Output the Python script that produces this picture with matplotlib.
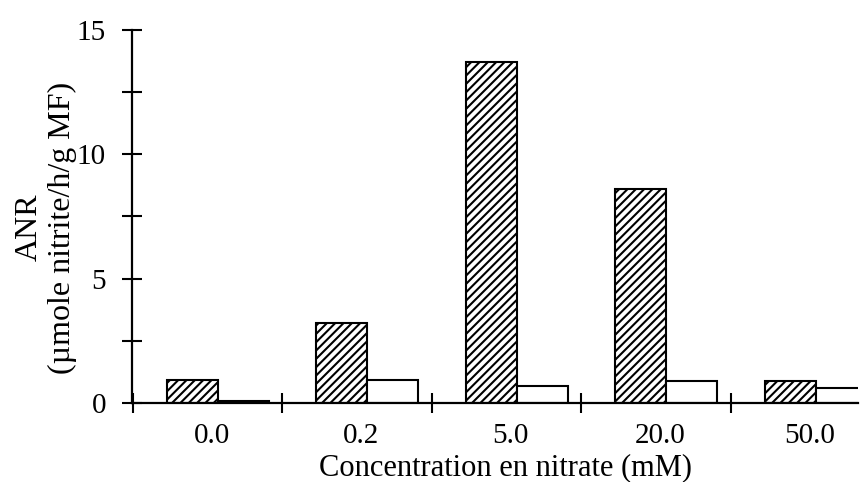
import matplotlib.pyplot as plt
import numpy as np

plt.rcParams["font.family"] = ["Liberation Serif", "DejaVu Serif"]
plt.rcParams["hatch.linewidth"] = 1.5

concentrations = ["0.0", "0.2", "5.0", "20.0", "50.0"]
anr_hatched = [0.92, 3.2, 13.7, 8.6, 0.9]
anr_white = [0.08, 0.92, 0.7, 0.88, 0.6]

fig = plt.figure(figsize=(8.61, 4.82), dpi=100)
ax = fig.add_axes([0.153, 0.164, 0.843, 0.774])

x = np.arange(len(concentrations))
w = 0.34
ax.bar(x - w / 2, anr_hatched, w, facecolor="white", edgecolor="black",
       hatch="////", linewidth=1.5)
ax.bar(x + w / 2, anr_white, w, facecolor="white", edgecolor="black",
       linewidth=1.5)

ax.set_xlim(-0.576, 4.28)
ax.set_ylim(0, 15)

# separators between groups, concentration labels under each group
ax.set_xticks(x - 0.57)
ax.set_xticklabels([])
ax.tick_params(axis="x", which="major", direction="inout", length=14, width=1.5)
for xi, lab in zip(x, concentrations):
    ax.text(xi - 0.04, -0.8, lab, ha="center", va="top", fontsize=21)

ax.set_yticks([0, 5, 10, 15])
ax.set_yticks([2.5, 7.5, 12.5], minor=True)
ax.tick_params(axis="y", which="both", direction="inout", length=15, width=1.5,
               labelsize=21, pad=11)

for side in ["top", "right"]:
    ax.spines[side].set_visible(False)
for side in ["left", "bottom"]:
    ax.spines[side].set_linewidth(1.6)

ax.set_xlabel("Concentration en nitrate (mM)", fontsize=22, va="center")
ax.xaxis.set_label_coords(0.515, -0.174)
ax.set_ylabel("ANR\n(\u00b5mole nitrite/h/g MF)", fontsize=23,
              linespacing=1.2, va="center", ha="center")
ax.yaxis.set_label_coords(-0.118, 0.47)

fig.savefig("out.png", dpi=100)
